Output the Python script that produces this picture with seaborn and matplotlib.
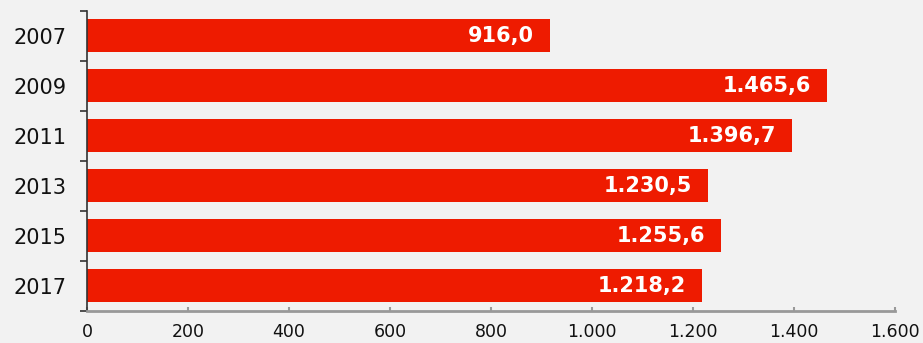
import matplotlib
matplotlib.use("Agg")
import matplotlib.pyplot as plt
import seaborn as sns
import pandas as pd

years = ["2007", "2009", "2011", "2013", "2015", "2017"]
values = [916.0, 1465.6, 1396.7, 1230.5, 1255.6, 1218.2]
x_ticks = [0, 200, 400, 600, 800, 1000, 1200, 1400, 1600]

BG = "#f2f2f2"
RED = "#ee1b00"

sns.set_theme(style="white")
plt.rcParams['font.family'] = ['DejaVu Sans']


def de_fmt(v, dec=0):
    s = f"{v:,.{dec}f}"
    return s.replace(",", "X").replace(".", ",").replace("X", ".")


df = pd.DataFrame({"year": years, "value": values})

fig = plt.figure(figsize=(9.23, 3.43), dpi=100, facecolor=BG)
ax = fig.add_axes([0.0943, 0.0933, 0.8754, 0.8747])
ax.set_facecolor(BG)

sns.barplot(data=df, x="value", y="year", color=RED, width=0.66,
            saturation=1, ax=ax, edgecolor="none")

for i, v in enumerate(values):
    ax.annotate(de_fmt(v, 1), xy=(v, i), xytext=(-16, 0), textcoords="offset pixels",
                ha="right", va="center", color="white", fontsize=15,
                fontweight="bold")

ax.set_xlim(0, 1600)
ax.set_ylim(5.5, -0.5)
ax.set_xticks(x_ticks)
ax.set_xticklabels([de_fmt(t) for t in x_ticks], fontsize=12.5)
ax.set_xlabel("")
ax.set_ylabel("")

# y: labels at centers, tick marks at category boundaries
ax.tick_params(axis="y", which="major", left=True, length=0, labelsize=15,
               pad=15, labelcolor="#111111")
ax.set_yticks([i - 0.5 for i in range(len(years) + 1)], minor=True)
ax.tick_params(axis="y", which="minor", left=True, length=5, width=1.2,
               color="#333333", direction="out")
ax.tick_params(axis="x", which="major", bottom=True, length=3, width=1.5,
               color="#999999", direction="in", labelcolor="#111111", pad=9)

for s in ["top", "right"]:
    ax.spines[s].set_visible(False)
ax.spines["left"].set_color("#333333")
ax.spines["left"].set_linewidth(1.2)
ax.spines["bottom"].set_color("#999999")
ax.spines["bottom"].set_linewidth(2)

fig.savefig("out.png", dpi=100, facecolor=BG)
